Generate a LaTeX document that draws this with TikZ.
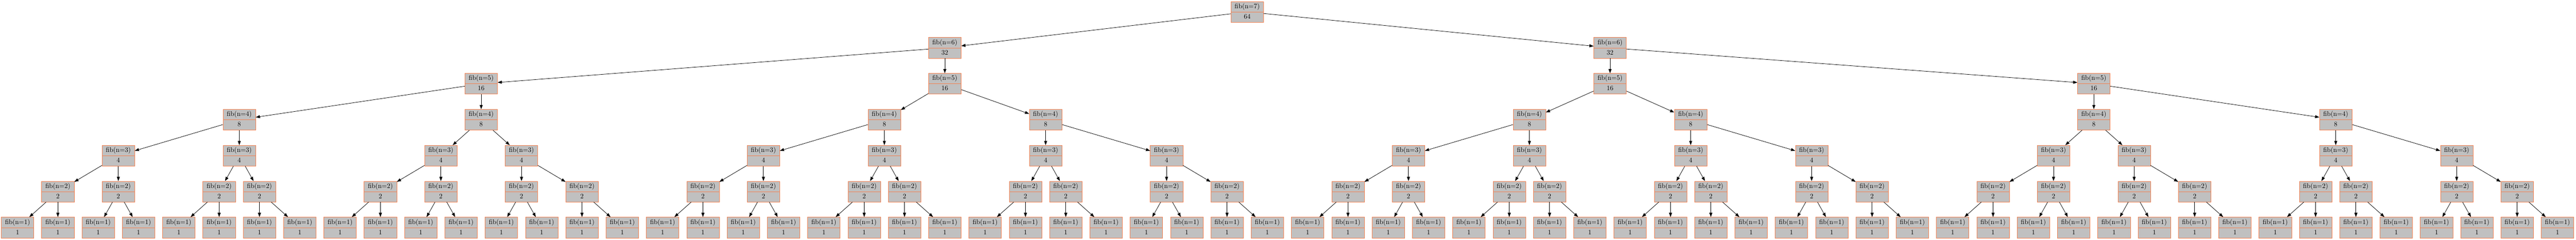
\documentclass[tikz,border=0pt]{standalone}
\usepackage{tikz}
\usetikzlibrary{shapes.multipart,arrows.meta}

\definecolor{fibline}{RGB}{244,128,80}
\definecolor{fibfill}{RGB}{192,192,192}
\newcommand{\fibstrut}{\rule[-5.15pt]{0pt}{15.4pt}}
\newcommand{\fibcall}[2]{\fibstrut fib(n=#1)\nodepart{two}\fibstrut #2}

\begin{document}
\begin{tikzpicture}[
    x=62pt,
    y=-55.3pt,
    fibbox/.style={
        rectangle split,
        rectangle split parts=2,
        draw=fibline,
        fill=fibfill,
        line width=0.5pt,
        minimum width=50pt,
        inner ysep=0pt,
        inner xsep=2pt,
        font=\fontsize{10.35pt}{12pt}\selectfont
    },
    call/.style={
        draw=black,
        line width=0.6pt,
        -{Triangle[length=6.5pt,width=4.6pt]}
    }
]
    \useasboundingbox (-0.4355,-0.330) rectangle (63.46,6.3336);
    % root
    \node[fibbox] (f7) at (30.5,0) {\fibcall{7}{64}};
    % n=6
    \node[fibbox] (f6n0) at (23,1) {\fibcall{6}{32}};
    \node[fibbox] (f6n1) at (39.5,1) {\fibcall{6}{32}};
    % n=5
    \node[fibbox] (f5n0) at (11.5,2) {\fibcall{5}{16}};
    \node[fibbox] (f5n1) at (23,2) {\fibcall{5}{16}};
    \node[fibbox] (f5n2) at (39.5,2) {\fibcall{5}{16}};
    \node[fibbox] (f5n3) at (51.5,2) {\fibcall{5}{16}};
    % n=4
    \node[fibbox] (f4n0) at (5.5,3) {\fibcall{4}{8}};
    \node[fibbox] (f4n1) at (11.5,3) {\fibcall{4}{8}};
    \node[fibbox] (f4n2) at (21.5,3) {\fibcall{4}{8}};
    \node[fibbox] (f4n3) at (25.5,3) {\fibcall{4}{8}};
    \node[fibbox] (f4n4) at (37.5,3) {\fibcall{4}{8}};
    \node[fibbox] (f4n5) at (41.5,3) {\fibcall{4}{8}};
    \node[fibbox] (f4n6) at (51.5,3) {\fibcall{4}{8}};
    \node[fibbox] (f4n7) at (57.5,3) {\fibcall{4}{8}};
    % n=3
    \node[fibbox] (f3n0) at (2.5,4) {\fibcall{3}{4}};
    \node[fibbox] (f3n1) at (5.5,4) {\fibcall{3}{4}};
    \node[fibbox] (f3n2) at (10.5,4) {\fibcall{3}{4}};
    \node[fibbox] (f3n3) at (12.5,4) {\fibcall{3}{4}};
    \node[fibbox] (f3n4) at (18.5,4) {\fibcall{3}{4}};
    \node[fibbox] (f3n5) at (21.5,4) {\fibcall{3}{4}};
    \node[fibbox] (f3n6) at (25.5,4) {\fibcall{3}{4}};
    \node[fibbox] (f3n7) at (28.5,4) {\fibcall{3}{4}};
    \node[fibbox] (f3n8) at (34.5,4) {\fibcall{3}{4}};
    \node[fibbox] (f3n9) at (37.5,4) {\fibcall{3}{4}};
    \node[fibbox] (f3n10) at (41.5,4) {\fibcall{3}{4}};
    \node[fibbox] (f3n11) at (44.5,4) {\fibcall{3}{4}};
    \node[fibbox] (f3n12) at (50.5,4) {\fibcall{3}{4}};
    \node[fibbox] (f3n13) at (52.5,4) {\fibcall{3}{4}};
    \node[fibbox] (f3n14) at (57.5,4) {\fibcall{3}{4}};
    \node[fibbox] (f3n15) at (60.5,4) {\fibcall{3}{4}};
    % n=2
    \node[fibbox] (f2n0) at (1,5) {\fibcall{2}{2}};
    \node[fibbox] (f2n1) at (2.5,5) {\fibcall{2}{2}};
    \node[fibbox] (f2n2) at (5,5) {\fibcall{2}{2}};
    \node[fibbox] (f2n3) at (6,5) {\fibcall{2}{2}};
    \node[fibbox] (f2n4) at (9,5) {\fibcall{2}{2}};
    \node[fibbox] (f2n5) at (10.5,5) {\fibcall{2}{2}};
    \node[fibbox] (f2n6) at (12.5,5) {\fibcall{2}{2}};
    \node[fibbox] (f2n7) at (14,5) {\fibcall{2}{2}};
    \node[fibbox] (f2n8) at (17,5) {\fibcall{2}{2}};
    \node[fibbox] (f2n9) at (18.5,5) {\fibcall{2}{2}};
    \node[fibbox] (f2n10) at (21,5) {\fibcall{2}{2}};
    \node[fibbox] (f2n11) at (22,5) {\fibcall{2}{2}};
    \node[fibbox] (f2n12) at (25,5) {\fibcall{2}{2}};
    \node[fibbox] (f2n13) at (26,5) {\fibcall{2}{2}};
    \node[fibbox] (f2n14) at (28.5,5) {\fibcall{2}{2}};
    \node[fibbox] (f2n15) at (30,5) {\fibcall{2}{2}};
    \node[fibbox] (f2n16) at (33,5) {\fibcall{2}{2}};
    \node[fibbox] (f2n17) at (34.5,5) {\fibcall{2}{2}};
    \node[fibbox] (f2n18) at (37,5) {\fibcall{2}{2}};
    \node[fibbox] (f2n19) at (38,5) {\fibcall{2}{2}};
    \node[fibbox] (f2n20) at (41,5) {\fibcall{2}{2}};
    \node[fibbox] (f2n21) at (42,5) {\fibcall{2}{2}};
    \node[fibbox] (f2n22) at (44.5,5) {\fibcall{2}{2}};
    \node[fibbox] (f2n23) at (46,5) {\fibcall{2}{2}};
    \node[fibbox] (f2n24) at (49,5) {\fibcall{2}{2}};
    \node[fibbox] (f2n25) at (50.5,5) {\fibcall{2}{2}};
    \node[fibbox] (f2n26) at (52.5,5) {\fibcall{2}{2}};
    \node[fibbox] (f2n27) at (54,5) {\fibcall{2}{2}};
    \node[fibbox] (f2n28) at (57,5) {\fibcall{2}{2}};
    \node[fibbox] (f2n29) at (58,5) {\fibcall{2}{2}};
    \node[fibbox] (f2n30) at (60.5,5) {\fibcall{2}{2}};
    \node[fibbox] (f2n31) at (62,5) {\fibcall{2}{2}};
    % n=1
    \node[fibbox] (f1n0) at (0,6) {\fibcall{1}{1}};
    \node[fibbox] (f1n1) at (1,6) {\fibcall{1}{1}};
    \node[fibbox] (f1n2) at (2,6) {\fibcall{1}{1}};
    \node[fibbox] (f1n3) at (3,6) {\fibcall{1}{1}};
    \node[fibbox] (f1n4) at (4,6) {\fibcall{1}{1}};
    \node[fibbox] (f1n5) at (5,6) {\fibcall{1}{1}};
    \node[fibbox] (f1n6) at (6,6) {\fibcall{1}{1}};
    \node[fibbox] (f1n7) at (7,6) {\fibcall{1}{1}};
    \node[fibbox] (f1n8) at (8,6) {\fibcall{1}{1}};
    \node[fibbox] (f1n9) at (9,6) {\fibcall{1}{1}};
    \node[fibbox] (f1n10) at (10,6) {\fibcall{1}{1}};
    \node[fibbox] (f1n11) at (11,6) {\fibcall{1}{1}};
    \node[fibbox] (f1n12) at (12,6) {\fibcall{1}{1}};
    \node[fibbox] (f1n13) at (13,6) {\fibcall{1}{1}};
    \node[fibbox] (f1n14) at (14,6) {\fibcall{1}{1}};
    \node[fibbox] (f1n15) at (15,6) {\fibcall{1}{1}};
    \node[fibbox] (f1n16) at (16,6) {\fibcall{1}{1}};
    \node[fibbox] (f1n17) at (17,6) {\fibcall{1}{1}};
    \node[fibbox] (f1n18) at (18,6) {\fibcall{1}{1}};
    \node[fibbox] (f1n19) at (19,6) {\fibcall{1}{1}};
    \node[fibbox] (f1n20) at (20,6) {\fibcall{1}{1}};
    \node[fibbox] (f1n21) at (21,6) {\fibcall{1}{1}};
    \node[fibbox] (f1n22) at (22,6) {\fibcall{1}{1}};
    \node[fibbox] (f1n23) at (23,6) {\fibcall{1}{1}};
    \node[fibbox] (f1n24) at (24,6) {\fibcall{1}{1}};
    \node[fibbox] (f1n25) at (25,6) {\fibcall{1}{1}};
    \node[fibbox] (f1n26) at (26,6) {\fibcall{1}{1}};
    \node[fibbox] (f1n27) at (27,6) {\fibcall{1}{1}};
    \node[fibbox] (f1n28) at (28,6) {\fibcall{1}{1}};
    \node[fibbox] (f1n29) at (29,6) {\fibcall{1}{1}};
    \node[fibbox] (f1n30) at (30,6) {\fibcall{1}{1}};
    \node[fibbox] (f1n31) at (31,6) {\fibcall{1}{1}};
    \node[fibbox] (f1n32) at (32,6) {\fibcall{1}{1}};
    \node[fibbox] (f1n33) at (33,6) {\fibcall{1}{1}};
    \node[fibbox] (f1n34) at (34,6) {\fibcall{1}{1}};
    \node[fibbox] (f1n35) at (35,6) {\fibcall{1}{1}};
    \node[fibbox] (f1n36) at (36,6) {\fibcall{1}{1}};
    \node[fibbox] (f1n37) at (37,6) {\fibcall{1}{1}};
    \node[fibbox] (f1n38) at (38,6) {\fibcall{1}{1}};
    \node[fibbox] (f1n39) at (39,6) {\fibcall{1}{1}};
    \node[fibbox] (f1n40) at (40,6) {\fibcall{1}{1}};
    \node[fibbox] (f1n41) at (41,6) {\fibcall{1}{1}};
    \node[fibbox] (f1n42) at (42,6) {\fibcall{1}{1}};
    \node[fibbox] (f1n43) at (43,6) {\fibcall{1}{1}};
    \node[fibbox] (f1n44) at (44,6) {\fibcall{1}{1}};
    \node[fibbox] (f1n45) at (45,6) {\fibcall{1}{1}};
    \node[fibbox] (f1n46) at (46,6) {\fibcall{1}{1}};
    \node[fibbox] (f1n47) at (47,6) {\fibcall{1}{1}};
    \node[fibbox] (f1n48) at (48,6) {\fibcall{1}{1}};
    \node[fibbox] (f1n49) at (49,6) {\fibcall{1}{1}};
    \node[fibbox] (f1n50) at (50,6) {\fibcall{1}{1}};
    \node[fibbox] (f1n51) at (51,6) {\fibcall{1}{1}};
    \node[fibbox] (f1n52) at (52,6) {\fibcall{1}{1}};
    \node[fibbox] (f1n53) at (53,6) {\fibcall{1}{1}};
    \node[fibbox] (f1n54) at (54,6) {\fibcall{1}{1}};
    \node[fibbox] (f1n55) at (55,6) {\fibcall{1}{1}};
    \node[fibbox] (f1n56) at (56,6) {\fibcall{1}{1}};
    \node[fibbox] (f1n57) at (57,6) {\fibcall{1}{1}};
    \node[fibbox] (f1n58) at (58,6) {\fibcall{1}{1}};
    \node[fibbox] (f1n59) at (59,6) {\fibcall{1}{1}};
    \node[fibbox] (f1n60) at (60,6) {\fibcall{1}{1}};
    \node[fibbox] (f1n61) at (61,6) {\fibcall{1}{1}};
    \node[fibbox] (f1n62) at (62,6) {\fibcall{1}{1}};
    \node[fibbox] (f1n63) at (63,6) {\fibcall{1}{1}};
    % calls
    \path[call] (f7) edge (f6n0) edge (f6n1);
    \path[call] (f6n0) edge (f5n0) edge (f5n1);
    \path[call] (f6n1) edge (f5n2) edge (f5n3);
    \path[call] (f5n0) edge (f4n0) edge (f4n1);
    \path[call] (f5n1) edge (f4n2) edge (f4n3);
    \path[call] (f5n2) edge (f4n4) edge (f4n5);
    \path[call] (f5n3) edge (f4n6) edge (f4n7);
    \path[call] (f4n0) edge (f3n0) edge (f3n1);
    \path[call] (f4n1) edge (f3n2) edge (f3n3);
    \path[call] (f4n2) edge (f3n4) edge (f3n5);
    \path[call] (f4n3) edge (f3n6) edge (f3n7);
    \path[call] (f4n4) edge (f3n8) edge (f3n9);
    \path[call] (f4n5) edge (f3n10) edge (f3n11);
    \path[call] (f4n6) edge (f3n12) edge (f3n13);
    \path[call] (f4n7) edge (f3n14) edge (f3n15);
    \path[call] (f3n0) edge (f2n0) edge (f2n1);
    \path[call] (f3n1) edge (f2n2) edge (f2n3);
    \path[call] (f3n2) edge (f2n4) edge (f2n5);
    \path[call] (f3n3) edge (f2n6) edge (f2n7);
    \path[call] (f3n4) edge (f2n8) edge (f2n9);
    \path[call] (f3n5) edge (f2n10) edge (f2n11);
    \path[call] (f3n6) edge (f2n12) edge (f2n13);
    \path[call] (f3n7) edge (f2n14) edge (f2n15);
    \path[call] (f3n8) edge (f2n16) edge (f2n17);
    \path[call] (f3n9) edge (f2n18) edge (f2n19);
    \path[call] (f3n10) edge (f2n20) edge (f2n21);
    \path[call] (f3n11) edge (f2n22) edge (f2n23);
    \path[call] (f3n12) edge (f2n24) edge (f2n25);
    \path[call] (f3n13) edge (f2n26) edge (f2n27);
    \path[call] (f3n14) edge (f2n28) edge (f2n29);
    \path[call] (f3n15) edge (f2n30) edge (f2n31);
    \path[call] (f2n0) edge (f1n0) edge (f1n1);
    \path[call] (f2n1) edge (f1n2) edge (f1n3);
    \path[call] (f2n2) edge (f1n4) edge (f1n5);
    \path[call] (f2n3) edge (f1n6) edge (f1n7);
    \path[call] (f2n4) edge (f1n8) edge (f1n9);
    \path[call] (f2n5) edge (f1n10) edge (f1n11);
    \path[call] (f2n6) edge (f1n12) edge (f1n13);
    \path[call] (f2n7) edge (f1n14) edge (f1n15);
    \path[call] (f2n8) edge (f1n16) edge (f1n17);
    \path[call] (f2n9) edge (f1n18) edge (f1n19);
    \path[call] (f2n10) edge (f1n20) edge (f1n21);
    \path[call] (f2n11) edge (f1n22) edge (f1n23);
    \path[call] (f2n12) edge (f1n24) edge (f1n25);
    \path[call] (f2n13) edge (f1n26) edge (f1n27);
    \path[call] (f2n14) edge (f1n28) edge (f1n29);
    \path[call] (f2n15) edge (f1n30) edge (f1n31);
    \path[call] (f2n16) edge (f1n32) edge (f1n33);
    \path[call] (f2n17) edge (f1n34) edge (f1n35);
    \path[call] (f2n18) edge (f1n36) edge (f1n37);
    \path[call] (f2n19) edge (f1n38) edge (f1n39);
    \path[call] (f2n20) edge (f1n40) edge (f1n41);
    \path[call] (f2n21) edge (f1n42) edge (f1n43);
    \path[call] (f2n22) edge (f1n44) edge (f1n45);
    \path[call] (f2n23) edge (f1n46) edge (f1n47);
    \path[call] (f2n24) edge (f1n48) edge (f1n49);
    \path[call] (f2n25) edge (f1n50) edge (f1n51);
    \path[call] (f2n26) edge (f1n52) edge (f1n53);
    \path[call] (f2n27) edge (f1n54) edge (f1n55);
    \path[call] (f2n28) edge (f1n56) edge (f1n57);
    \path[call] (f2n29) edge (f1n58) edge (f1n59);
    \path[call] (f2n30) edge (f1n60) edge (f1n61);
    \path[call] (f2n31) edge (f1n62) edge (f1n63);
\end{tikzpicture}
\end{document}
